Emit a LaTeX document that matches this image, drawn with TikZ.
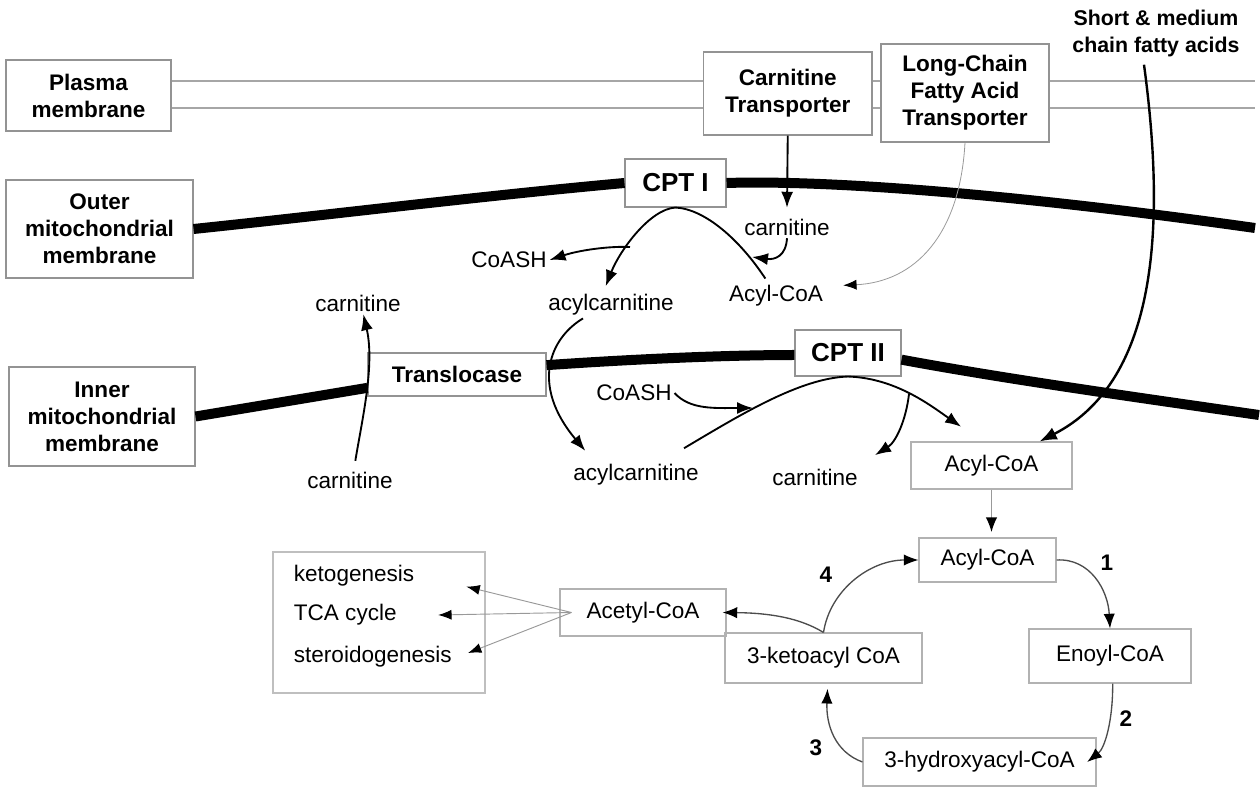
\documentclass[tikz,border=0pt]{standalone}
\usepackage{fontspec}
\setmainfont{Liberation Sans}
\usetikzlibrary{arrows.meta}

\newcommand{\dfont}{\fontsize{16.9}{20.25}\selectfont}
\newcommand{\cptfont}{\fontsize{19.5}{23}\selectfont\bfseries}
\newcommand{\sfafont}{\fontsize{16}{20.25}\selectfont\bfseries}

\begin{document}
\begin{tikzpicture}[x=0.75pt, y=-0.75pt,
        box/.style={draw=gray!85, line width=0.8pt, align=center, inner sep=0pt, font=\dfont\bfseries},
        pbox/.style={draw=gray!60, line width=0.8pt, align=center, inner sep=0pt, font=\dfont},
        chem/.style={font=\dfont, inner sep=2pt},
        num/.style={font=\dfont\bfseries, inner sep=1pt},
        membrane/.style={line width=7.5pt},
        pm/.style={draw=gray!70, line width=0.8pt},
        rxn/.style={-{Latex[length=12pt, width=9pt]}, line width=1.4pt},
        cyc/.style={-{Latex[length=11pt, width=8.5pt, color=black]}, line width=1pt, draw=black!70},
        fan/.style={-{Latex[length=10pt, width=7.5pt, color=black]}, line width=0.7pt, draw=gray!80},
        >={Latex[length=10pt, width=8pt]}]
    \useasboundingbox (0,0) rectangle (1260,787);

    % membrane labels
    \node (plasma) [box, minimum width=123.75pt, minimum height=53.25pt] at (88.5,95.5) {Plasma\\membrane};
    \node (outer) [box, minimum width=140.25pt, minimum height=73.5pt] at (99.5,229) {Outer\\mitochondrial\\membrane};
    \node (inner) [box, minimum width=139.5pt, minimum height=74.25pt] at (102,416.5) {Inner\\mitochondrial\\membrane};

    % transporters and enzymes
    \node (ct) [box, minimum width=126.4pt, minimum height=62.25pt] at (787.75,93.5) {Carnitine\\Transporter};
    \node (lcfa) [box, minimum width=126pt, minimum height=73.5pt] at (965,93) {Long-Chain\\Fatty Acid\\Transporter};
    \node (cpt1) [box, font=\cptfont, minimum width=75.75pt, minimum height=36pt] at (675.5,183) {CPT I};
    \node (trans) [box, minimum width=133.5pt, minimum height=32.25pt] at (457,374.5) {Translocase};
    \node (cpt2) [box, font=\cptfont, minimum width=79.5pt, minimum height=34.5pt] at (848,353) {CPT II};
    \node (scfa) [font=\sfafont, align=center, inner sep=0pt] at (1156,33) {Short \& medium\\chain fatty acids};

    % metabolites between the membranes
    \node (carnA) [chem] at (787,227) {carnitine};
    \node (coashA) [chem] at (509,260) {CoASH};
    \node (acA) [chem] at (611,305) {acylcarnitine};
    \node (acylA) [chem] at (776,296) {Acyl-CoA};
    \node (carnB) [chem] at (358,303) {carnitine};
    \node (carnC) [chem] at (350,480) {carnitine};
    \node (coashB) [chem] at (634,393) {CoASH};
    \node (acB) [chem] at (636,475) {acylcarnitine};
    \node (carnD) [chem] at (815,477) {carnitine};

    % beta oxidation
    \node (acylB) [pbox, minimum width=120.75pt, minimum height=35.25pt] at (991.5,465.5) {Acyl-CoA};
    \node (acylC) [pbox, minimum width=102.75pt, minimum height=33pt] at (987.5,560) {Acyl-CoA};
    \node (enoyl) [pbox, minimum width=121.5pt, minimum height=40.5pt] at (1110,656) {Enoyl-CoA};
    \node (hydroxy) [pbox, minimum width=174.75pt, minimum height=36pt] at (979.5,762) {3-hydroxyacyl-CoA};
    \node (keto) [pbox, minimum width=147.75pt, minimum height=37.5pt] at (823.5,658) {3-ketoacyl CoA};
    \node (acetyl) [pbox, minimum width=124.5pt, minimum height=35.25pt] at (643,612.5) {Acetyl-CoA};
    \node (fates) [pbox, draw=gray!50, minimum width=159pt, minimum height=105.75pt] at (379,622.5) {};
    \node (ketog) [chem, anchor=west] at (291,576) {ketogenesis};
    \node (tca) [chem, anchor=west] at (291,615) {TCA cycle};
    \node (steroid) [chem, anchor=west] at (291,657) {steroidogenesis};

    \node (n1) [num] at (1107,563) {1};
    \node (n2) [num] at (1126,719) {2};
    \node (n3) [num] at (816,748) {3};
    \node (n4) [num] at (826,575) {4};

    % membranes
    \coordinate (pmTop) at (0,81);
    \coordinate (pmBot) at (0,108);
    \coordinate (pmEnd) at (1255,0);
    \foreach \lvl in {pmTop, pmBot} {
        \draw[pm] (plasma.east |- \lvl) -- (ct.west |- \lvl);
        \draw[pm] (ct.east |- \lvl) -- (lcfa.west |- \lvl);
        \draw[pm] (lcfa.east |- \lvl) -- (pmEnd |- \lvl);
    }
    \coordinate (omEnd) at (1255,228);
    \coordinate (imEnd) at (1259,415);
    \draw[membrane] (outer.east) .. controls (337,214) and (481,196) .. (cpt1.west);
    \draw[membrane] (cpt1.east) .. controls (820,180) and (1000,192) .. (omEnd);
    \draw[membrane] (inner.east) -- ([yshift=-10pt]trans.west);
    \draw[membrane] ([yshift=7pt]trans.east) .. controls (620,360) and (720,355) .. ([yshift=-1.5pt]cpt2.west);
    \draw[membrane] ([yshift=-5pt]cpt2.east) .. controls (1000,378) and (1120,395) .. (imEnd);

    % CPT I
    \coordinate (cpt1in) at (752,257);
    \coordinate (cpt1out) at (630,247);
    \draw[rxn] (ct.south) -- ([yshift=6pt]carnA.north);
    \draw[rxn] ([shift={(-8pt,3pt)}]acylA.north) .. controls (740,240) and (705,209) .. (cpt1.south)
        .. controls (650,209) and (620,250) .. ([shift={(-4pt,4pt)}]acA.north);
    \draw[rxn] (cpt1out) .. controls (610,246) and (580,250) .. (coashA.east);
    \draw[rxn] (carnA.south) .. controls (786,256) and (775,260) .. (cpt1in);
    \draw[-{Latex[length=10pt, width=7.5pt, color=black]}, line width=0.6pt, draw=gray!80] (lcfa.south) .. controls (960,235) and (915,282) .. ([shift={(13pt,8pt)}]acylA.east);
    \draw[-{Latex[length=13pt, width=10pt]}, line width=1.8pt] ([shift={(-9pt,-6pt)}]scfa.south) .. controls (1165,220) and (1160,380) .. ([xshift=36pt]acylB.north);

    % translocase and CPT II
    \coordinate (cpt2in) at (753,408);
    \coordinate (cpt2out) at (909,394);
    \draw[rxn] ([shift={(4pt,6pt)}]carnC.north) .. controls (362,420) and (375,365) .. ([xshift=4pt]carnB.south);
    \draw[rxn] ([xshift=-21pt]acA.south) .. controls (550,338) and (530,385) .. ([shift={(-38pt,8pt)}]acB.north);
    \draw[rxn] ([shift={(36pt,10pt)}]acB.north) .. controls (740,415) and (800,378) .. (cpt2.south)
        .. controls (895,378) and (930,405) .. ([shift={(38pt,11pt)}]acylB.north west);
    \draw[rxn] (coashB.east) .. controls (690,410) and (715,408) .. (cpt2in);
    \draw[rxn] (cpt2out) .. controls (906,420) and (896,442) .. ([shift={(45pt,8pt)}]carnD.north);

    % cycle
    \draw[cyc, draw=gray!80] (acylB.south) -- ([yshift=4pt]acylB.south |- acylC.north);
    \draw[cyc] (acylC.east) .. controls (1090,558) and (1108,590) .. (enoyl.north);
    \draw[cyc] ([xshift=2pt]enoyl.south) .. controls (1113,720) and (1105,748) .. ([xshift=-7pt]hydroxy.east);
    \draw[cyc] (hydroxy.west) .. controls (835,752) and (826,725) .. ([shift={(3pt,-4pt)}]keto.south);
    \draw[cyc] (keto.north) .. controls (830,590) and (870,560) .. (acylC.west);
    \draw[cyc] (keto.north) .. controls (800,618) and (770,613) .. ([xshift=-3pt]acetyl.east);

    % fates of acetyl-CoA
    \draw[fan] ([xshift=9pt]acetyl.west) -- ([shift={(37pt,-8pt)}]ketog.east);
    \draw[fan] ([xshift=9pt]acetyl.west) -- ([xshift=29pt]tca.east);
    \draw[fan] ([xshift=9pt]acetyl.west) -- ([shift={(10pt,3pt)}]steroid.east);
\end{tikzpicture}
\end{document}
